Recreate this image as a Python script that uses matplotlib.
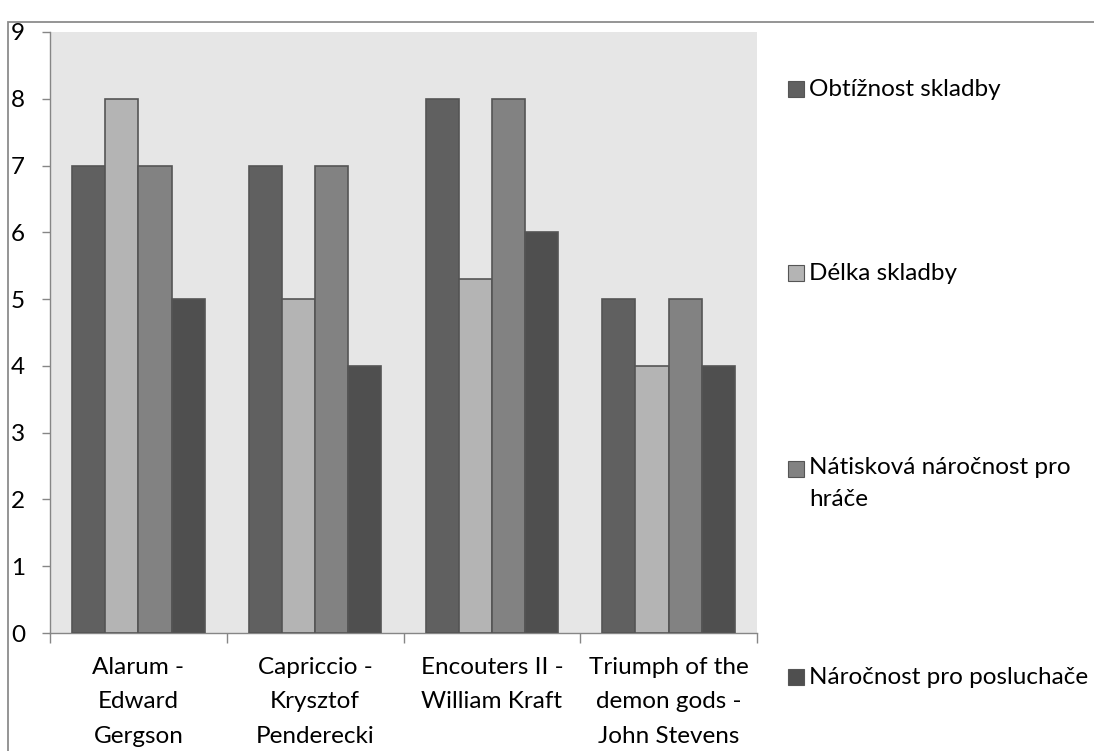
import matplotlib.pyplot as plt
import numpy as np
from matplotlib.patches import Rectangle

plt.rcParams['font.family'] = ['Lato', 'DejaVu Sans']

skladby = ['Alarum -\nEdward\nGergson', 'Capriccio -\nKrysztof\nPenderecki',
           'Encouters II -\nWilliam Kraft', 'Triumph of the\ndemon gods -\nJohn Stevens']
obtiznost = [7, 7, 8, 5]
delka = [8, 5, 5.3, 4]
natiskova = [7, 7, 8, 5]
posluchaci = [5, 4, 6, 4]

nazvy = ['Obtížnost skladby', 'Délka skladby',
         'Nátisková náročnost pro\nhráče', 'Náročnost pro posluchače']
barvy = ['#606060', '#b4b4b4', '#828282', '#4f4f4f']

W, H = 1094, 751
fs = 17.5
fig = plt.figure(figsize=(W / 100, H / 100), dpi=100)

# ramecek kolem celeho grafu
fig.patches.append(Rectangle((8 / W, -0.1), 1.2, 1 - 22 / H + 0.1, transform=fig.transFigure,
                             fill=False, edgecolor='#8c8c8c', linewidth=1.3))

ax = fig.add_axes([50 / W, (H - 633) / H, 707 / W, 601 / H])
ax.set_facecolor('#e6e6e6')

x = np.arange(len(skladby))
sirka = 0.1875
serie = [obtiznost, delka, natiskova, posluchaci]
for i, (hodnoty, barva) in enumerate(zip(serie, barvy)):
    ax.bar(x + (i - 1.5) * sirka, hodnoty, sirka, color=barva,
           edgecolor='#555555', linewidth=1.2, zorder=3)

ax.set_xlim(-0.5, 3.5)
ax.set_ylim(0, 9)
ax.set_yticks(range(10))
ax.tick_params(axis='y', length=6, width=1, color='#868686', pad=12, labelsize=fs)
ax.set_xticks(np.arange(-0.5, 4, 1))
ax.set_xticklabels([])
ax.tick_params(axis='x', length=7.5, width=1, color='#868686', direction='out')

# popisky skladeb pod osou
for i, s in enumerate(skladby):
    ax.text(i, -24 / 601, s, ha='center', va='top', fontsize=fs, linespacing=1.78,
            transform=ax.get_xaxis_transform())

for side in ['top', 'right']:
    ax.spines[side].set_visible(False)
for side in ['left', 'bottom']:
    ax.spines[side].set_color('#868686')
    ax.spines[side].set_linewidth(1)

# legenda
pozice = [89, 273, 469, 677]
for nazev, barva, y in zip(nazvy, barvy, pozice):
    fig.patches.append(Rectangle((788 / W, 1 - (y + 8) / H), 16 / W, 16 / H,
                                 transform=fig.transFigure, facecolor=barva,
                                 edgecolor='#555555', linewidth=0.8))
    if '\n' in nazev:
        fig.text(809 / W, 1 - (y - 12) / H, nazev, ha='left', va='top',
                 fontsize=fs, linespacing=1.65)
    else:
        fig.text(809 / W, 1 - y / H, nazev, ha='left', va='center', fontsize=fs)

fig.savefig('out.png', dpi=100)
